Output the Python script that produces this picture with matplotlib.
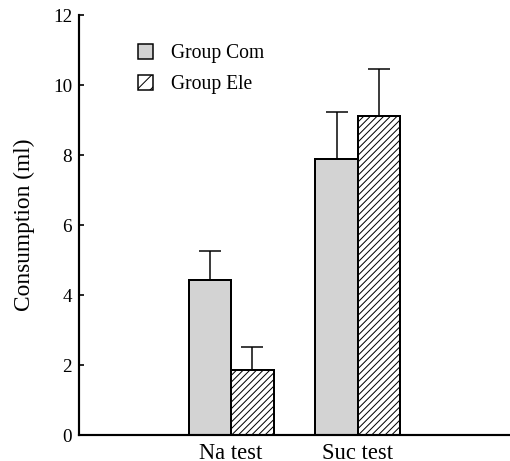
import matplotlib
matplotlib.use("Agg")
import matplotlib.pyplot as plt
import numpy as np
from matplotlib.patches import Patch

plt.rcParams['font.family'] = ['Liberation Serif', 'DejaVu Serif']
plt.rcParams['hatch.linewidth'] = 0.6

categories = ["Na test", "Suc test"]
series = ["Group Com", "Group Ele"]
com_means = [4.43, 7.89]
com_err = [0.83, 1.34]
ele_means = [1.86, 9.11]
ele_err = [0.65, 1.35]
y_ticks = [0, 2, 4, 6, 8, 10, 12]

DPI = 120
fig = plt.figure(figsize=(510 / DPI, 461 / DPI), dpi=DPI)
ax = fig.add_axes([79 / 510, 26 / 461, 431 / 510, 420 / 461])

x = np.arange(len(categories))
w = 0.335

ax.bar(x - w / 2, com_means, w, color='#d3d3d3', edgecolor='black', linewidth=1.2, zorder=2)
ax.bar(x + w / 2, ele_means, w, color='white', edgecolor='black', linewidth=1.2,
       hatch='//////', zorder=2)
ax.errorbar(x - w / 2, com_means, yerr=[np.zeros(len(x)), com_err], fmt='none',
            ecolor='black', elinewidth=0.9, capsize=6.6, capthick=0.9, zorder=1)
ax.errorbar(x + w / 2, ele_means, yerr=[np.zeros(len(x)), ele_err], fmt='none',
            ecolor='black', elinewidth=0.9, capsize=6.6, capthick=0.9, zorder=1)

ax.set_xlim(-1.2, 2.2)
ax.set_ylim(0, 12)
ax.set_yticks(y_ticks)
ax.set_yticklabels([str(t) for t in y_ticks], fontsize=11.5)
ax.set_xticks(x)
ax.set_xticklabels(categories, fontsize=13.5)
ax.tick_params(axis='y', direction='in', length=3, width=1.0, pad=4.2)
ax.tick_params(axis='x', length=0, pad=5)
ax.set_ylabel("Consumption (ml)", fontsize=14, labelpad=11)

for s in ['top', 'right']:
    ax.spines[s].set_visible(False)
ax.spines['left'].set_linewidth(1.3)
ax.spines['bottom'].set_linewidth(1.3)

handles = [Patch(facecolor='#d3d3d3', edgecolor='black', linewidth=0.9),
           Patch(facecolor='white', edgecolor='black', linewidth=0.9, hatch='///')]
ax.legend(handles, series, loc='upper left', bbox_to_anchor=(0.138, 0.93),
          frameon=False, fontsize=11.8, handlelength=0.75, handleheight=0.75,
          handletextpad=0.9, borderpad=0, borderaxespad=0, labelspacing=0.6)

fig.savefig("out.png", dpi=DPI)
